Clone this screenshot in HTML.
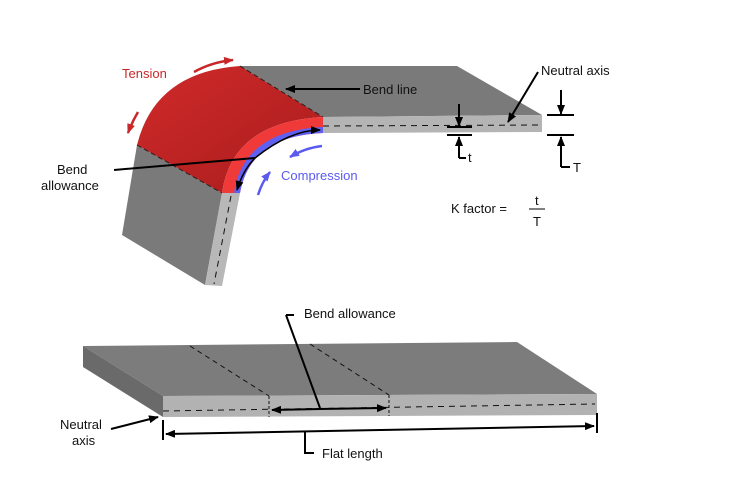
<!DOCTYPE html>
<html><head><meta charset="utf-8"><style>
body{margin:0;background:#fff}
svg{display:block}
text{font-family:"Liberation Sans",sans-serif;font-size:13px;fill:#111}
</style></head><body>
<svg width="732" height="490" viewBox="0 0 732 490" xmlns="http://www.w3.org/2000/svg">
<defs>
<marker id="ah" markerWidth="10" markerHeight="8" refX="9" refY="4" orient="auto" markerUnits="userSpaceOnUse"><path d="M0,0 L10,4 L0,8 Z" fill="#000"/></marker>
<marker id="ar" markerWidth="10" markerHeight="8" refX="9" refY="4" orient="auto" markerUnits="userSpaceOnUse"><path d="M0,0 L10,4 L0,8 Z" fill="#c8282a"/></marker>
<marker id="ab" markerWidth="10" markerHeight="8" refX="9" refY="4" orient="auto" markerUnits="userSpaceOnUse"><path d="M0,0 L10,4 L0,8 Z" fill="#5a5af0"/></marker>
<linearGradient id="rg" x1="0" y1="0" x2="1" y2="1"><stop offset="0" stop-color="#d02a2a"/><stop offset="1" stop-color="#a81c1c"/></linearGradient>
</defs>
<!-- top flat plate -->
<polygon points="240,66 457,66 542,115 323,117" fill="#7a7a7a"/>
<polygon points="323,117 542,115 542,132 323,133" fill="#b4b4b4"/>
<line x1="323" y1="126" x2="540" y2="125" stroke="#111" stroke-width="1" stroke-dasharray="6,5"/>
<!-- leg -->
<polygon points="137,145 222,193 205,285 122,235" fill="#7a7a7a"/>
<polygon points="222,193 240,193 222,286 205,285" fill="#b8b8b8"/>
<line x1="231" y1="196" x2="214" y2="284" stroke="#111" stroke-width="1" stroke-dasharray="6,5"/>
<!-- red top -->
<path d="M240,66 Q155,72 137,145 L222,193 Q232,122 323,117 Z" fill="url(#rg)"/>
<line x1="240" y1="66" x2="323" y2="117" stroke="#222" stroke-dasharray="5,3" stroke-width="1"/>
<line x1="137" y1="145" x2="222" y2="193" stroke="#222" stroke-dasharray="5,3" stroke-width="1"/>
<!-- front ring -->
<path d="M323,117 Q232,122 222,193 L240,193 Q250,136 323,133 Z" fill="#f03a3a"/>
<path d="M323,127 Q243,131 234,193 L240,193 Q250,136 323,133 Z" fill="#6060f0"/>
<!-- tension arrows -->
<path d="M194,72 Q212,62 233,60" fill="none" stroke="#c8282a" stroke-width="2.5" marker-end="url(#ar)"/>
<path d="M138,112 Q132,122 128,133" fill="none" stroke="#c8282a" stroke-width="2.5" marker-end="url(#ar)"/>
<text x="122" y="78" style="fill:#c8282a">Tension</text>
<!-- compression arrows -->
<path d="M322,146 Q305,148 290,157" fill="none" stroke="#5a5af0" stroke-width="2.5" marker-end="url(#ab)"/>
<path d="M258,195 Q262,182 270,172" fill="none" stroke="#5a5af0" stroke-width="2.5" marker-end="url(#ab)"/>
<text x="281" y="180" style="fill:#5a5af0">Compression</text>
<!-- bend line label -->
<line x1="360" y1="89" x2="286" y2="89" stroke="#000" stroke-width="2" marker-end="url(#ah)"/>
<text x="363" y="94">Bend line</text>
<!-- bend allowance -->
<line x1="114" y1="170" x2="255" y2="158" stroke="#000" stroke-width="2"/>
<path d="M255,158 Q290,130 320,130" fill="none" stroke="#000" stroke-width="1.5" marker-end="url(#ah)"/>
<path d="M255,158 Q243,170 237,190" fill="none" stroke="#000" stroke-width="1.5" marker-end="url(#ah)"/>
<text x="57" y="174">Bend</text>
<text x="41" y="190">allowance</text>
<!-- neutral axis top -->
<line x1="538" y1="72" x2="508" y2="122" stroke="#000" stroke-width="2" marker-end="url(#ah)"/>
<text x="541" y="75">Neutral axis</text>
<!-- t -->
<line x1="447" y1="127" x2="472" y2="127" stroke="#000" stroke-width="2"/>
<line x1="447" y1="135" x2="472" y2="135" stroke="#000" stroke-width="2"/>
<line x1="459" y1="104" x2="459" y2="126" stroke="#000" stroke-width="2" marker-end="url(#ah)"/>
<path d="M459,158 L459,137" stroke="#000" stroke-width="2" marker-end="url(#ah)"/>
<line x1="459" y1="158" x2="466" y2="158" stroke="#000" stroke-width="2"/>
<text x="468" y="162">t</text>
<!-- T -->
<line x1="547" y1="115" x2="574" y2="115" stroke="#000" stroke-width="2"/>
<line x1="547" y1="135" x2="574" y2="135" stroke="#000" stroke-width="2"/>
<line x1="561" y1="90" x2="561" y2="114" stroke="#000" stroke-width="2" marker-end="url(#ah)"/>
<path d="M561,167 L561,137" stroke="#000" stroke-width="2" marker-end="url(#ah)"/>
<line x1="561" y1="167" x2="570" y2="167" stroke="#000" stroke-width="2"/>
<text x="573" y="172">T</text>
<!-- K factor -->
<text x="451" y="213">K factor =</text>
<text x="535" y="205">t</text>
<line x1="529" y1="209" x2="545" y2="209" stroke="#000" stroke-width="1"/>
<text x="533" y="226">T</text>
<!-- bottom slab -->
<polygon points="83,346 517,342 597,394 163,396" fill="#7c7c7c"/>
<polygon points="83,346 163,396 163,417 83,367" fill="#6a6a6a"/>
<polygon points="163,396 597,394 597,415 163,417" fill="#b2b2b2"/>
<line x1="190" y1="346" x2="269" y2="396" stroke="#111" stroke-dasharray="5,4"/>
<line x1="310" y1="344" x2="389" y2="395" stroke="#111" stroke-dasharray="5,4"/>
<line x1="269" y1="396" x2="269" y2="417" stroke="#111" stroke-dasharray="3,2"/>
<line x1="389" y1="395" x2="389" y2="416" stroke="#111" stroke-dasharray="3,2"/>
<line x1="163" y1="411" x2="595" y2="404" stroke="#111" stroke-dasharray="6,5"/>
<!-- bend allowance arrows -->
<line x1="320" y1="409" x2="272" y2="410" stroke="#000" stroke-width="2" marker-end="url(#ah)"/>
<line x1="320" y1="409" x2="386" y2="408" stroke="#000" stroke-width="2" marker-end="url(#ah)"/>
<line x1="320" y1="408" x2="286" y2="315" stroke="#000" stroke-width="2"/>
<line x1="286" y1="315" x2="294" y2="315" stroke="#000" stroke-width="2"/>
<text x="304" y="318">Bend allowance</text>
<!-- flat length -->
<line x1="163" y1="420" x2="163" y2="440" stroke="#000" stroke-width="2"/>
<line x1="597" y1="413" x2="597" y2="433" stroke="#000" stroke-width="2"/>
<line x1="380" y1="430" x2="166" y2="434" stroke="#000" stroke-width="2" marker-end="url(#ah)"/>
<line x1="380" y1="430" x2="594" y2="426" stroke="#000" stroke-width="2" marker-end="url(#ah)"/>
<path d="M305,431 L305,453 L314,453" fill="none" stroke="#000" stroke-width="2"/>
<text x="322" y="458">Flat length</text>
<!-- neutral axis bottom -->
<line x1="111" y1="429" x2="158" y2="417" stroke="#000" stroke-width="2" marker-end="url(#ah)"/>
<text x="60" y="429">Neutral</text>
<text x="72" y="445">axis</text>
</svg>
</body></html>
